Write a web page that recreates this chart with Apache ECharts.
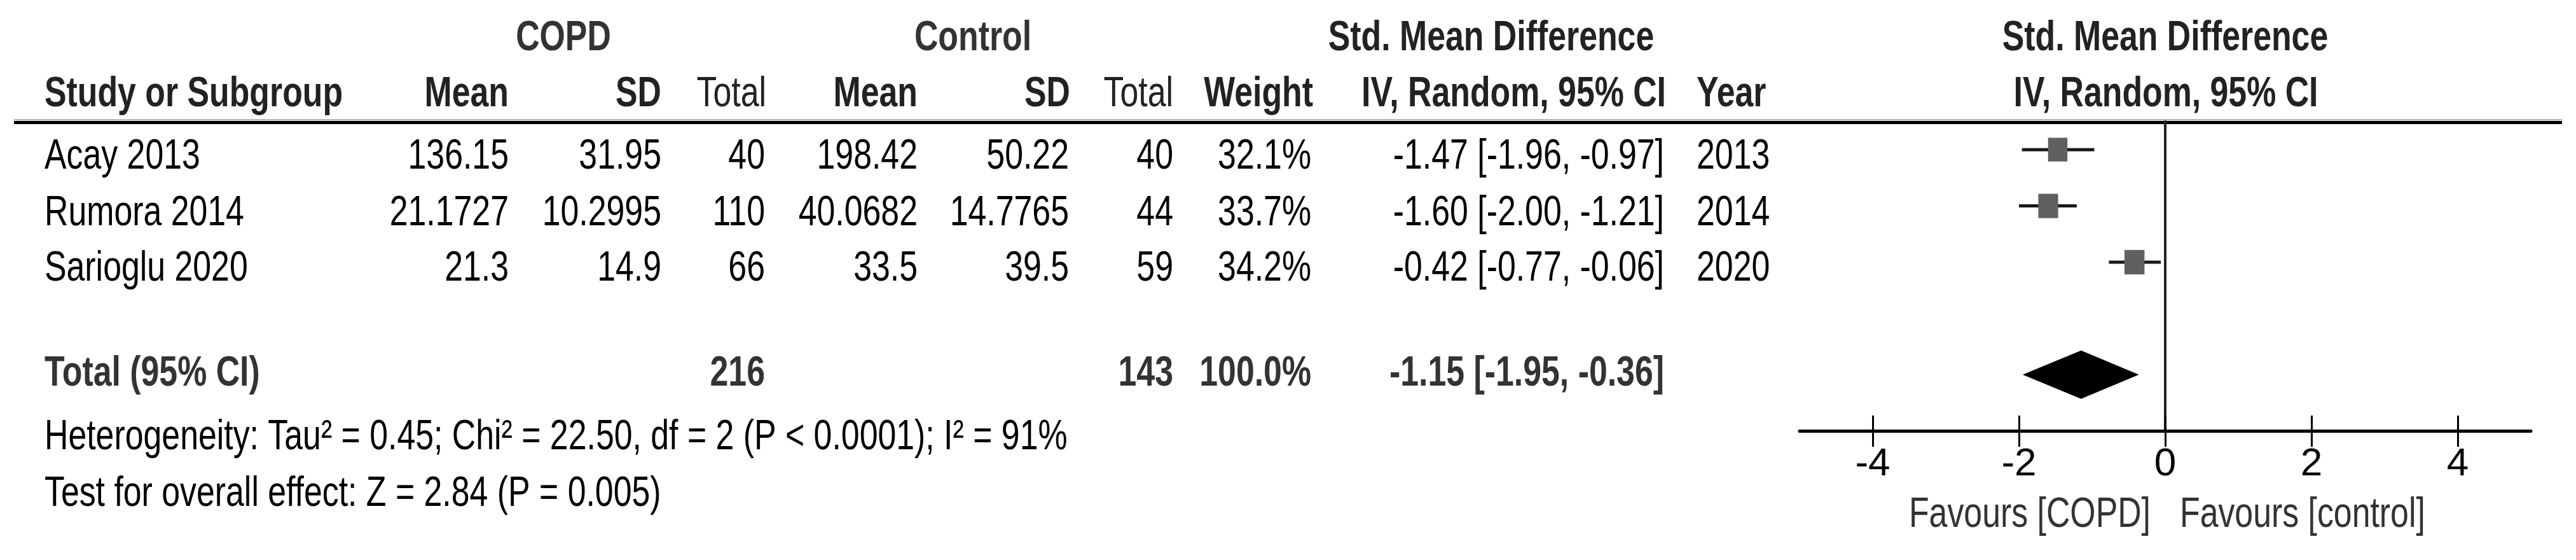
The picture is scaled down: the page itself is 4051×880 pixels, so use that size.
<!DOCTYPE html>
<html>
<head>
<meta charset="utf-8">
<script src="https://cdn.jsdelivr.net/npm/echarts@6/dist/echarts.min.js"></script>
<style>
html,body{margin:0;padding:0;background:#fff;}
#c{width:4051px;height:880px;}
</style>
</head>
<body>
<div id="c"></div>
<script>
// ---------------- data ----------------
const studies   = ['Acay 2013', 'Rumora 2014', 'Sarioglu 2020'];
const copdMean  = [136.15, 21.1727, 21.3];
const copdSD    = [31.95, 10.2995, 14.9];
const copdN     = [40, 110, 66];
const ctrlMean  = [198.42, 40.0682, 33.5];
const ctrlSD    = [50.22, 14.7765, 39.5];
const ctrlN     = [40, 44, 59];
const weights   = [32.1, 33.7, 34.2];
const smd       = [-1.47, -1.60, -0.42];
const smdLow    = [-1.96, -2.00, -0.77];
const smdHigh   = [-0.97, -1.21, -0.06];
const years     = [2013, 2014, 2020];
const totalLabel = 'Total (95% CI)';
const totalCopdN = 216;
const totalCtrlN = 143;
const totalWeight = 100.0;
const totalSmd  = [-1.15, -1.95, -0.36];   // estimate, low, high
const heterogeneityText = 'Heterogeneity: Tau\u00b2 = 0.45; Chi\u00b2 = 22.50, df = 2 (P < 0.0001); I\u00b2 = 91%';
const overallText = 'Test for overall effect: Z = 2.84 (P = 0.005)';
const xTicks    = [-4, -2, 0, 2, 4];
const favourLeft  = 'Favours [COPD]';
const favourRight = 'Favours [control]';

// ---------------- layout / style ----------------
const FONT = "'Liberation Sans',Arial,sans-serif";
const FS = 66;          // font size
const SX = 0.785;       // horizontal condensing of the text (reference uses a narrow face)
const Y_H1 = 61, Y_H2 = 149, ROW_Y = [247, 336, 423], Y_TOT = 588, Y_HET = 688, Y_TEST = 777, Y_FAV = 810;
const C = {name:70, cm:800, csd:1040, cn:1203, km:1443, ksd:1681, kn:1845, w:2062, ci:2617, yr:2668};

function T(text, x, y, align, opt) {
  opt = opt || {};
  return {
    type: 'text', x: x, y: y, scaleX: SX, scaleY: 1, silent: true,
    style: {
      text: String(text),
      fontSize: opt.fs || FS,
      fontFamily: FONT,
      fontWeight: opt.bold ? 'bold' : 'normal',
      fill: opt.color || '#000',
      align: align, textAlign: align,
      verticalAlign: 'middle', textVerticalAlign: 'middle'
    }
  };
}
const f2 = v => v.toFixed(2);
const ciStr = (e, l, h) => f2(e) + ' [' + f2(l) + ', ' + f2(h) + ']';

const g = [];
// header line
g.push({type:'line', silent:true, shape:{x1:22, y1:188, x2:4029, y2:188}, style:{stroke:'#b8b8b8', lineWidth:2}});
g.push({type:'line', silent:true, shape:{x1:22, y1:192.5, x2:4029, y2:192.5}, style:{stroke:'#000', lineWidth:5}});
// group headers
g.push(T('COPD', 886, Y_H1, 'center', {color:'#333', bold:true}));
g.push(T('Control', 1530, Y_H1, 'center', {color:'#333', bold:true}));
g.push(T('Std. Mean Difference', 2345, Y_H1, 'center', {color:'#222', bold:true}));
g.push(T('Std. Mean Difference', 3405, Y_H1, 'center', {color:'#222', bold:true}));
// column headers
g.push(T('Study or Subgroup', C.name, Y_H2, 'left', {bold:true, color:'#222'}));
g.push(T('Mean', C.cm, Y_H2, 'right', {bold:true, color:'#222'}));
g.push(T('SD', C.csd, Y_H2, 'right', {bold:true, color:'#222'}));
g.push(T('Total', C.cn + 2, Y_H2, 'right', {color:'#222'}));
g.push(T('Mean', C.km, Y_H2, 'right', {bold:true, color:'#222'}));
g.push(T('SD', C.ksd + 2, Y_H2, 'right', {bold:true, color:'#222'}));
g.push(T('Total', C.kn, Y_H2, 'right', {color:'#222'}));
g.push(T('Weight', C.w + 3, Y_H2, 'right', {bold:true, color:'#222'}));
g.push(T('IV, Random, 95% CI', C.ci + 3, Y_H2, 'right', {bold:true, color:'#222'}));
g.push(T('Year', C.yr, Y_H2, 'left', {bold:true, color:'#222'}));
g.push(T('IV, Random, 95% CI', 3406, Y_H2, 'center', {bold:true, color:'#222'}));
// study rows
studies.forEach((s, i) => {
  const y = ROW_Y[i];
  g.push(T(s, C.name, y, 'left'));
  g.push(T(copdMean[i], C.cm, y, 'right'));
  g.push(T(copdSD[i], C.csd, y, 'right'));
  g.push(T(copdN[i], C.cn, y, 'right'));
  g.push(T(ctrlMean[i], C.km, y, 'right'));
  g.push(T(ctrlSD[i], C.ksd, y, 'right'));
  g.push(T(ctrlN[i], C.kn, y, 'right'));
  g.push(T(weights[i].toFixed(1) + '%', C.w, y, 'right'));
  g.push(T(ciStr(smd[i], smdLow[i], smdHigh[i]), C.ci, y, 'right'));
  g.push(T(years[i], C.yr, y, 'left'));
});
// total row
g.push(T(totalLabel, C.name, Y_TOT, 'left', {bold:true, color:'#333'}));
g.push(T(totalCopdN, C.cn, Y_TOT, 'right', {bold:true, color:'#333'}));
g.push(T(totalCtrlN, C.kn, Y_TOT, 'right', {bold:true, color:'#333'}));
g.push(T(totalWeight.toFixed(1) + '%', C.w, Y_TOT, 'right', {bold:true, color:'#333'}));
g.push(T(ciStr(totalSmd[0], totalSmd[1], totalSmd[2]), C.ci, Y_TOT, 'right', {bold:true, color:'#333'}));
// footnotes
g.push(T(heterogeneityText, C.name, Y_HET, 'left'));
g.push(T(overallText, C.name, Y_TEST, 'left'));
// favours labels
g.push(T(favourLeft, 3382, Y_FAV, 'right', {color:'#333'}));
g.push(T(favourRight, 3428, Y_FAV, 'left', {color:'#333'}));

// ---------------- chart ----------------
const chart = echarts.init(document.getElementById('c'), null, {renderer: 'canvas'});
const studyData = studies.map((s, i) => [smd[i], smdLow[i], smdHigh[i], i, weights[i]]);
const totalRow = studies.length + 1;

chart.setOption({
  animation: false,
  backgroundColor: '#fff',
  grid: {left: 2830, width: 1150, top: 191, height: 486, containLabel: false},
  xAxis: [{
    type: 'value', min: -5, max: 5, position: 'bottom',
    axisLine: {show: true, onZero: false, lineStyle: {color: '#000', width: 5}},
    axisTick: {show: true, inside: false, length: 25, customValues: xTicks, lineStyle: {color: '#000', width: 3}},
    axisLabel: {show: true, customValues: xTicks, margin: 22, fontSize: 62, fontFamily: FONT, color: '#000'},
    splitLine: {show: false}
  }, {
    type: 'value', min: -5, max: 5, position: 'bottom',
    axisLine: {show: false, onZero: false},
    axisTick: {show: true, inside: true, length: 24, customValues: xTicks, lineStyle: {color: '#000', width: 3}},
    axisLabel: {show: false},
    splitLine: {show: false}
  }],
  yAxis: {
    type: 'value', min: -0.5, max: 5, inverse: true,
    axisLine: {show: true, onZero: true, onZeroAxisIndex: 0, lineStyle: {color: '#222', width: 4}},
    axisTick: {show: false}, axisLabel: {show: false}, splitLine: {show: false}
  },
  graphic: {elements: g},
  series: [{
    type: 'custom', name: 'Studies', xAxisIndex: 0, yAxisIndex: 0,
    data: studyData,
    encode: {x: [0, 1, 2], y: 3},
    renderItem: function (params, api) {
      const yv = api.value(3);
      const p = api.coord([api.value(0), yv]);
      const pl = api.coord([api.value(1), yv]);
      const ph = api.coord([api.value(2), yv]);
      const s = Math.sqrt(api.value(4) / 33.3);
      const w = 31 * s, h = 38 * s;
      return {type: 'group', children: [
        {type: 'line', shape: {x1: pl[0], y1: pl[1], x2: ph[0], y2: ph[1]}, style: {stroke: '#1a1a1a', lineWidth: 5}},
        {type: 'rect', shape: {x: p[0] - w / 2, y: p[1] - h / 2, width: w, height: h}, style: {fill: '#606060'}}
      ]};
    }
  }, {
    type: 'custom', name: 'Total', xAxisIndex: 0, yAxisIndex: 0,
    data: [[totalSmd[0], totalSmd[1], totalSmd[2], totalRow]],
    encode: {x: [0, 1, 2], y: 3},
    renderItem: function (params, api) {
      const yv = api.value(3);
      const p = api.coord([api.value(0), yv]);
      const pl = api.coord([api.value(1), yv]);
      const ph = api.coord([api.value(2), yv]);
      const hh = 38;
      return {type: 'polygon', shape: {points: [[pl[0], p[1]], [p[0], p[1] - hh], [ph[0], p[1]], [p[0], p[1] + hh]]}, style: {fill: '#000'}};
    }
  }]
});
</script>
</body>
</html>
